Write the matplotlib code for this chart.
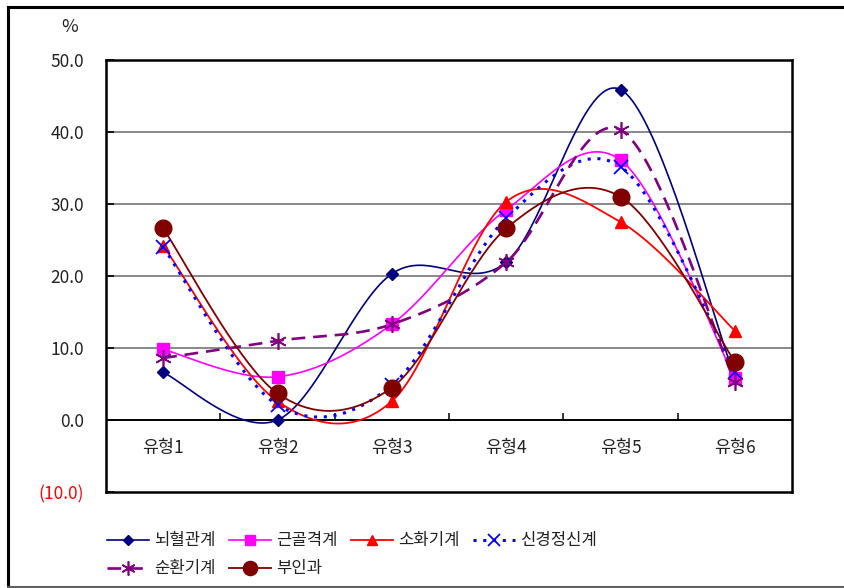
import numpy as np
import matplotlib
matplotlib.use("Agg")
import matplotlib.pyplot as plt
from matplotlib.lines import Line2D

plt.rcParams['font.family'] = ['Noto Sans CJK KR', 'DejaVu Sans']

categories = ['유형1', '유형2', '유형3', '유형4', '유형5', '유형6']

brain = [6.6, 0.0, 20.3, 21.9, 45.9, 6.0]        # 뇌혈관계
muscle = [9.8, 6.0, 13.3, 29.2, 36.1, 5.8]       # 근골격계
digest = [24.2, 2.6, 2.6, 30.3, 27.5, 12.4]      # 소화기계
neuro = [24.0, 2.1, 4.8, 28.0, 35.2, 6.7]        # 신경정신계
circ = [8.6, 11.0, 13.3, 21.9, 40.3, 5.3]        # 순환기계
gyne = [26.6, 3.7, 4.5, 26.6, 31.0, 8.1]         # 부인과

series_names = ['뇌혈관계', '근골격계', '소화기계', '신경정신계', '순환기계', '부인과']
series_values = [brain, muscle, digest, neuro, circ, gyne]

styles = [
    dict(color='#000080', ls='-', lw=1.2, marker='D', ms=6, mfc='#000080', mec='#000080', mew=1),
    dict(color='#FF00FF', ls='-', lw=1.2, marker='s', ms=8, mfc='#FF00FF', mec='#FF00FF', mew=1),
    dict(color='#FF0000', ls='-', lw=1.3, marker='^', ms=9, mfc='#FF0000', mec='#FF0000', mew=1),
    dict(color='#0000FF', ls=(0, (1, 2.2)), lw=2.2, marker='x', ms=10, mfc='none', mec='#0000FF', mew=1.3),
    dict(color='#800080', ls=(0, (5.2, 3)), lw=1.9, marker=(6, 2, 0), ms=12, mfc='none', mec='#800080', mew=1.2),
    dict(color='#800000', ls='-', lw=1.3, marker='o', ms=12, mfc='#800000', mec='#800000', mew=1),
]


def smooth(xs, ys, n=40):
    # cubic Bezier through the points, Catmull-Rom style control points
    p = np.column_stack([xs, ys]).astype(float)
    ext = np.vstack([p[0], p, p[-1]])
    out = []
    t = np.linspace(0, 1, n)[:, None]
    for i in range(len(p) - 1):
        p0, p3 = ext[i + 1], ext[i + 2]
        c1 = p0 + (ext[i + 2] - ext[i]) / 6.0
        c2 = p3 - (ext[i + 3] - ext[i + 1]) / 6.0
        seg = ((1 - t) ** 3) * p0 + 3 * ((1 - t) ** 2) * t * c1 + 3 * (1 - t) * t ** 2 * c2 + t ** 3 * p3
        out.append(seg if i == 0 else seg[1:])
    out = np.vstack(out)
    return out[:, 0], out[:, 1]


W, H = 844, 588
fig = plt.figure(figsize=(W / 100, H / 100), dpi=100)
ax = fig.add_axes([106 / W, 1 - 492 / H, (792 - 106) / W, (492 - 60) / H])

x = np.arange(len(categories))
for vals, st in zip(series_values, styles):
    sx, sy = smooth(x, vals)
    ax.plot(sx, sy, color=st['color'], ls=st['ls'], lw=st['lw'], zorder=3)
    ax.plot(x, vals, ls='none', marker=st['marker'], ms=st['ms'], mfc=st['mfc'],
            mec=st['mec'], mew=st['mew'], zorder=4)

ax.set_xlim(-0.5, len(categories) - 0.5)
ax.set_ylim(-10, 50)

# gridlines and category axis at zero
for g in [10, 20, 30, 40]:
    ax.axhline(g, color='#808080', lw=1.3, zorder=1)
ax.axhline(0, color='black', lw=1.4, zorder=2)
ax.vlines(np.arange(len(categories) - 1) + 0.5, 0, 1.0, color='black', lw=1.1, zorder=2)
for xi, c in zip(x, categories):
    ax.text(xi, -3.9, c, ha='center', va='center', fontsize=12.5, color='#222222')

ax.set_xticks([])
ax.set_yticks(np.arange(-10, 51, 10))
ax.set_yticklabels([f'({abs(v):.1f})' if v < 0 else f'{v:.1f}' for v in range(-10, 51, 10)])
ax.tick_params(axis='y', direction='in', length=6, width=1.2, pad=16, labelsize=12.5,
               labelcolor='#222222')
for lbl in ax.get_yticklabels():
    if lbl.get_text().startswith('('):
        lbl.set_color('#FF0000')
for sp in ax.spines.values():
    sp.set_linewidth(1.8)
    sp.set_color('black')

fig.text(70 / W, 1 - 27 / H, '%', ha='center', va='center', fontsize=13, color='#222222')

# legend: two rows, four fixed-width columns
col_x = [107, 229, 351, 473]
row_y = [540, 568]
for k, (name, st) in enumerate(zip(series_names, styles)):
    r, c = divmod(k, 4)
    x0, y0 = col_x[c], 1 - row_y[r] / H
    fig.add_artist(Line2D([x0 / W, (x0 + 42) / W], [y0, y0], color=st['color'],
                          ls=st['ls'], lw=st['lw']))
    fig.add_artist(Line2D([(x0 + 21) / W], [y0], ls='none', marker=st['marker'],
                          ms=st['ms'] * 0.85, mfc=st['mfc'], mec=st['mec'], mew=st['mew']))
    fig.text((x0 + 47) / W, y0, name, ha='left', va='center', fontsize=12, color='#222222')

# outer frame
fig.add_artist(Line2D([8 / W, 8 / W], [0, 1 - 7 / H], color='black', lw=2.2))
fig.add_artist(Line2D([8 / W, 1], [1 - 7 / H, 1 - 7 / H], color='black', lw=2.2))
fig.add_artist(Line2D([8 / W, 1], [1 / H, 1 / H], color='#606060', lw=1.5))

fig.savefig('out.png', dpi=100)
